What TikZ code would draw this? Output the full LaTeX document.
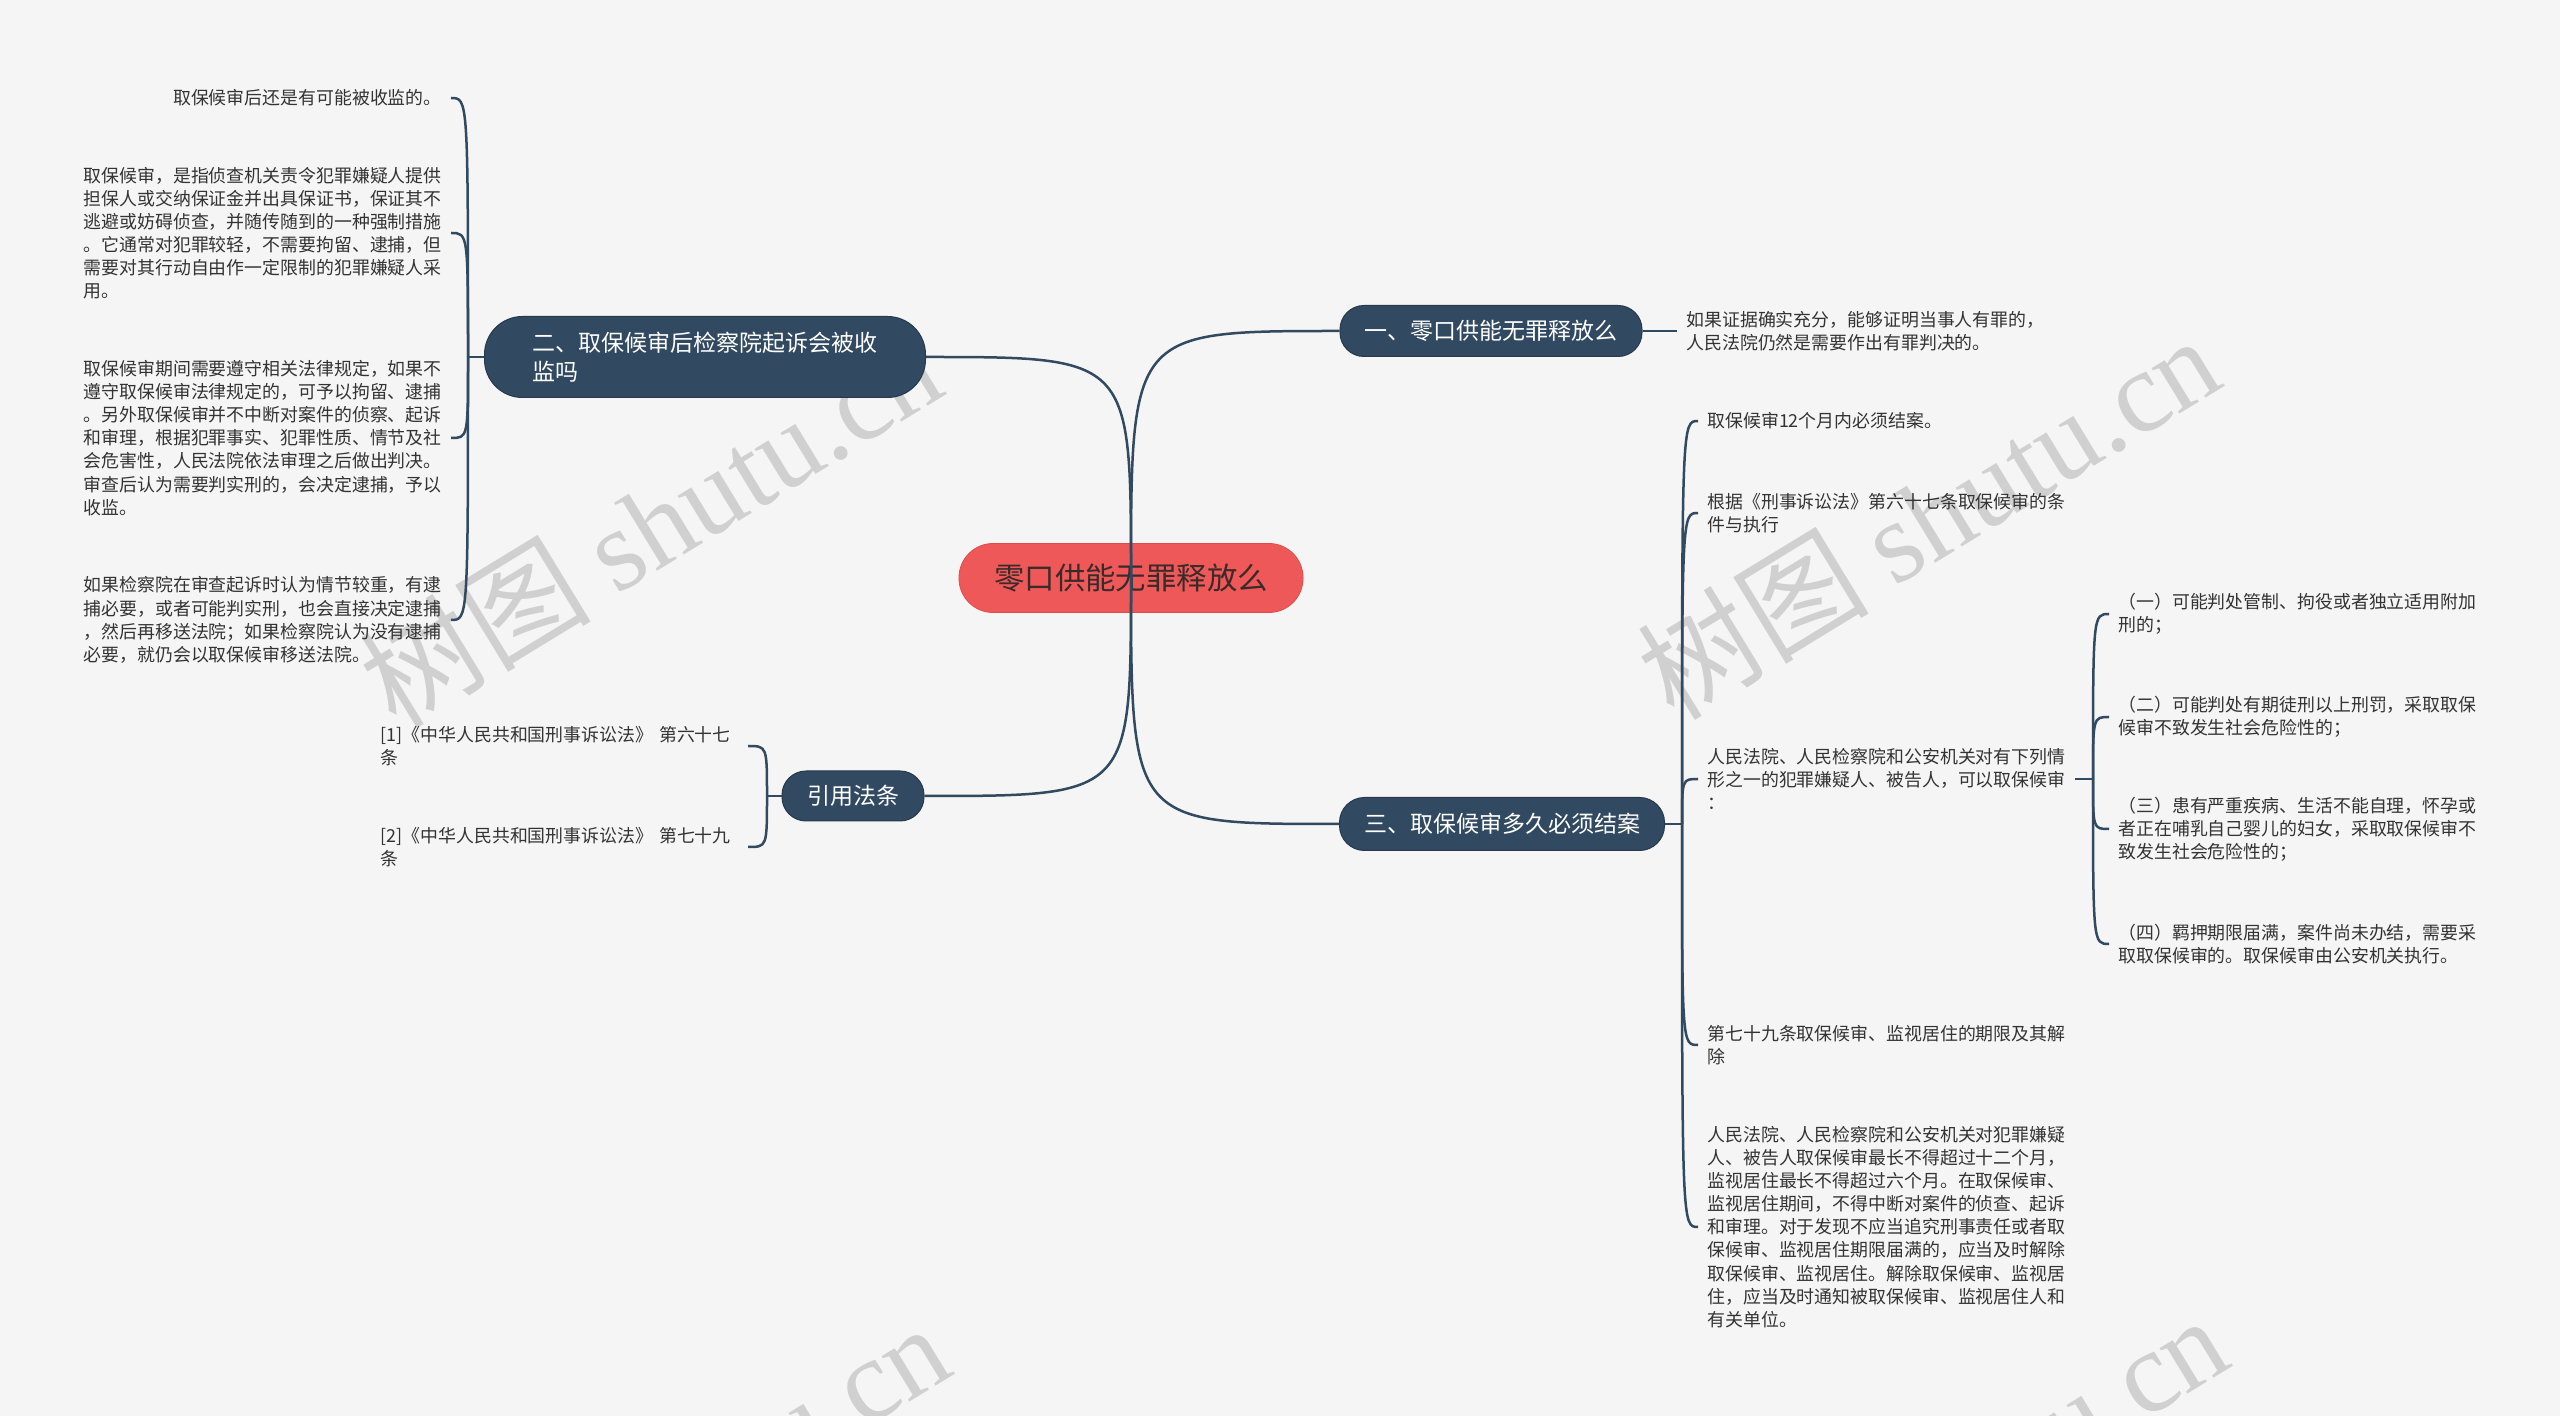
\documentclass[tikz,border=0pt]{standalone}
\usepackage{fontspec}
\setmainfont{Noto Sans CJK SC}
\newfontfamily\wmlatin{Liberation Serif}
\usetikzlibrary{calc}
\definecolor{bg}{HTML}{F5F5F5}
\definecolor{navy}{HTML}{314961}
\definecolor{navyedge}{HTML}{26394D}
\definecolor{rootred}{HTML}{EE5858}
\definecolor{rootedge}{HTML}{E04C4C}
\definecolor{leaftext}{HTML}{333333}
\definecolor{roottext}{HTML}{3A2A2A}
\begin{document}
\begin{tikzpicture}[x=0.5pt,y=-0.5pt,
  rootbox/.style={fill=rootred, draw=rootedge, line width=0.4pt, text=roottext, rounded corners=17pt, minimum width=172pt, minimum height=34.5pt, inner sep=0pt, font=\fontsize{15.2}{18}\selectfont},
  branchbox/.style={fill=navy, draw=navyedge, line width=0.5pt, text=white, inner sep=0pt, font=\fontsize{11.5}{14.5}\selectfont},
  leafbox/.style={text=leaftext, inner xsep=4.5pt, inner ysep=2pt, align=left, font=\fontsize{8.95}{11.55}\selectfont},
  widebox/.style={text width=179pt},
  conn/.style={draw=navy, line width=1.25pt},
  wmark/.style={text=black, opacity=0.15, inner sep=0pt, font=\fontsize{58}{58}\selectfont},
]
\fill[bg] (0,0) rectangle (2560,1416);
\useasboundingbox (0,0) rectangle (2560,1416);

% watermarks (behind everything)
\begin{scope}
\clip (0,0) rectangle (2560,1416);
\node[wmark, rotate=31.4] (w1) at (650,524) {树图 {\wmlatin shutu.cn}};
\node[wmark, rotate=31.4] (w2) at (1928,516) {树图 {\wmlatin shutu.cn}};
\node[wmark, rotate=31.4] (w3) at (658,1504) {树图 {\wmlatin shutu.cn}};
\node[wmark, rotate=31.4] (w4) at (1936,1496) {树图 {\wmlatin shutu.cn}};
\end{scope}

% main nodes
\node[rootbox] (root) at (1131,578) {零口供能无罪释放么};
\node[branchbox, minimum width=151pt, minimum height=25.5pt, rounded corners=12pt] (n1) at (1491,331) {一、零口供能无罪释放么};
\node[branchbox, minimum width=220.5pt, minimum height=40.5pt, rounded corners=19pt, align=left] (n2) at (705,357) {二、取保候审后检察院起诉会被收\\监吗};
\node[branchbox, minimum width=162.5pt, minimum height=26.5pt, rounded corners=12.5pt] (n3) at (1502,824) {三、取保候审多久必须结案};
\node[branchbox, minimum width=71pt, minimum height=25pt, rounded corners=12pt] (n4) at (853,796) {引用法条};

% leaves of n1
\node[leafbox, anchor=west] (a1) at (1677,331) {如果证据确实充分，能够证明当事人有罪的，\\人民法院仍然是需要作出有罪判决的。};

% leaves of n2
\node[leafbox, anchor=east] (b1) at (451,98) {取保候审后还是有可能被收监的。};
\node[leafbox, widebox, anchor=east] (b2) at (451,233) {取保候审，是指侦查机关责令犯罪嫌疑人提供\\担保人或交纳保证金并出具保证书，保证其不\\逃避或妨碍侦查，并随传随到的一种强制措施\\。它通常对犯罪较轻，不需要拘留、逮捕，但\\需要对其行动自由作一定限制的犯罪嫌疑人采\\用。};
\node[leafbox, widebox, anchor=east] (b3) at (451,438) {取保候审期间需要遵守相关法律规定，如果不\\遵守取保候审法律规定的，可予以拘留、逮捕\\。另外取保候审并不中断对案件的侦察、起诉\\和审理，根据犯罪事实、犯罪性质、情节及社\\会危害性，人民法院依法审理之后做出判决。\\审查后认为需要判实刑的，会决定逮捕，予以\\收监。};
\node[leafbox, widebox, anchor=east] (b4) at (451,620) {如果检察院在审查起诉时认为情节较重，有逮\\捕必要，或者可能判实刑，也会直接决定逮捕\\，然后再移送法院；如果检察院认为没有逮捕\\必要，就仍会以取保候审移送法院。};

% leaves of n3
\node[leafbox, widebox, anchor=west] (c1) at (1698,421) {取保候审12个月内必须结案。};
\node[leafbox, widebox, anchor=west] (c2) at (1698,513) {根据《刑事诉讼法》第六十七条取保候审的条\\件与执行};
\node[leafbox, widebox, anchor=west] (c3) at (1698,779) {人民法院、人民检察院和公安机关对有下列情\\形之一的犯罪嫌疑人、被告人，可以取保候审\\：};
\node[leafbox, widebox, anchor=west] (c4) at (1698,1045) {第七十九条取保候审、监视居住的期限及其解\\除};
\node[leafbox, widebox, anchor=west] (c5) at (1698,1227) {人民法院、人民检察院和公安机关对犯罪嫌疑\\人、被告人取保候审最长不得超过十二个月，\\监视居住最长不得超过六个月。在取保候审、\\监视居住期间，不得中断对案件的侦查、起诉\\和审理。对于发现不应当追究刑事责任或者取\\保候审、监视居住期限届满的，应当及时解除\\取保候审、监视居住。解除取保候审、监视居\\住，应当及时通知被取保候审、监视居住人和\\有关单位。};

% sub leaves of c3
\node[leafbox, widebox, anchor=west] (d1) at (2109,614) {（一）可能判处管制、拘役或者独立适用附加\\刑的；};
\node[leafbox, widebox, anchor=west] (d2) at (2109,717) {（二）可能判处有期徒刑以上刑罚，采取取保\\候审不致发生社会危险性的；};
\node[leafbox, widebox, anchor=west] (d3) at (2109,829) {（三）患有严重疾病、生活不能自理，怀孕或\\者正在哺乳自己婴儿的妇女，采取取保候审不\\致发生社会危险性的；};
\node[leafbox, widebox, anchor=west] (d4) at (2109,944) {（四）羁押期限届满，案件尚未办结，需要采\\取取保候审的。取保候审由公安机关执行。};

% leaves of n4
\node[leafbox, widebox, anchor=east] (e1) at (748,746) {[1]《中华人民共和国刑事诉讼法》 第六十七\\条};
\node[leafbox, widebox, anchor=east] (e2) at (748,847) {[2]《中华人民共和国刑事诉讼法》 第七十九\\条};

% junctions
\coordinate (j2) at (468,357);
\coordinate (j3) at (1682,824);
\coordinate (j4) at (2093,779);
\coordinate (j5) at (767,796);

% root connectors
\draw[conn] (root.center) .. controls (root.center |- n1.west) .. (n1.west);
\draw[conn] (root.center) .. controls (root.center |- n2.east) .. (n2.east);
\draw[conn] (root.center) .. controls (root.center |- n3.west) .. (n3.west);
\draw[conn] (root.center) .. controls (root.center |- n4.east) .. (n4.east);

% n1 leaf
\draw[conn] (n1.east) -- (a1.west);

% n2 leaves
\draw[conn] (n2.west) -- (j2);
\foreach \l in {b1,b2,b3,b4}
  \draw[conn] (j2) .. controls (j2 |- \l.east) .. (\l.east);

% n3 leaves
\draw[conn] (n3.east) -- (j3);
\foreach \l in {c1,c2,c3,c4,c5}
  \draw[conn] (j3) .. controls (j3 |- \l.west) .. (\l.west);

% c3 sub leaves
\draw[conn] (c3.east) -- (j4);
\foreach \l in {d1,d2,d3,d4}
  \draw[conn] (j4) .. controls (j4 |- \l.west) .. (\l.west);

% n4 leaves
\draw[conn] (n4.west) -- (j5);
\foreach \l in {e1,e2}
  \draw[conn] (j5) .. controls (j5 |- \l.east) .. (\l.east);
\end{tikzpicture}
\end{document}
